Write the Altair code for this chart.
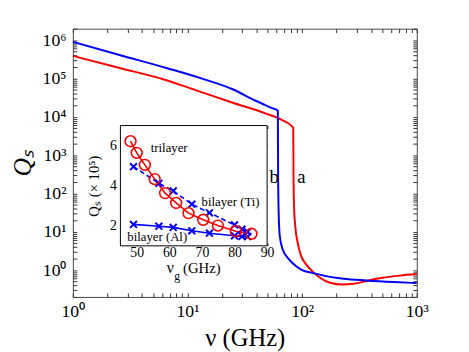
import altair as alt
import pandas as pd

SERIF = "Liberation Serif"

# ---------------- main curves: frequency (GHz) vs Q_s ----------------
freq_a = [1.0, 2.51, 6.65, 12.8, 24.8, 47.9, 66.5, 83.6, 84.1, 85.1, 87.1, 92.3, 97.7,
          107, 120, 141, 178, 224, 282, 363, 501, 708, 1000]
q_a = [389000, 191000, 89100, 45700, 23400, 12300, 8300, 5250, 316, 40, 14, 4.5, 2.4,
       1.48, 1.0, 0.65, 0.46, 0.42, 0.44, 0.52, 0.63, 0.72, 0.79]
freq_b = [1.0, 2.51, 6.65, 12.8, 24.8, 39.3, 54.6, 61.4, 61.7, 62.4, 63.8, 67.6, 75.9,
          87.1, 100, 123, 158, 229, 363, 631, 1000]
q_b = [904000, 417000, 186000, 104000, 52500, 26300, 17000, 14500, 316, 31.6, 7.9, 3.5, 2.0,
       1.32, 1.0, 0.85, 0.71, 0.60, 0.54, 0.49, 0.46]

curve_names = ["a", "b"]
curve_colors = ["#ff0000", "#0000ff"]

# curve annotations
ann_text = ["a", "b"]
ann_freq = [98.6, 57.1]
ann_q = [191, 191]

# ---------------- inset: gap frequency vs Q_s (x 1e5) ----------------
tri_x = [48.1, 50.0, 52.5, 55.5, 58.7, 62.1, 65.9, 70.4, 74.9, 80.4, 85.2]
tri_y = [6.22, 5.64, 5.04, 4.33, 3.63, 3.14, 2.63, 2.30, 2.01, 1.73, 1.60]
ti_x = [49.0, 56.8, 61.2, 66.9, 72.3, 80.0, 82.3, 84.0]
ti_y = [4.95, 4.12, 3.74, 3.08, 2.65, 2.04, 1.83, 1.70]
al_x = [49.0, 56.8, 61.2, 66.9, 72.3, 80.0, 82.3, 84.0]
al_y = [2.07, 1.98, 1.92, 1.75, 1.63, 1.50, 1.47, 1.46]

inset_labels = ["trilayer", "bilayer (Ti)", "bilayer (Al)"]
inset_label_x = [54.3, 69.9, 47.1]
inset_label_y = [5.67, 2.98, 1.26]

# inset x-axis title pieces (nu, subscript g, unit)
ititle_text = ["ν", "g", "(GHz)"]
ititle_x = [59.2, 61.5, 64.2]
ititle_y = [-0.36, -0.72, -0.36]
ititle_size = [16, 12, 15]

# tick values / labels
x_decades = [1, 10, 100, 1000]
x_labels = ["10⁰", "10¹", "10²", "10³"]
y_decades = [1, 10, 100, 1000, 10000, 100000, 1000000]
y_labels = ["10⁰", "10¹", "10²", "10³", "10⁴", "10⁵", "10⁶"]
x_ticks = [m * 10 ** k for k in range(0, 3) for m in range(1, 10)] + [1000]
y_ticks = ([m * 10 ** k for k in range(-1, 6) for m in range(1, 10) if m * 10 ** k >= 0.2]
           + [1000000, 2000000])
inset_xticks = [50, 60, 70, 80, 90]
inset_yticks = [2, 4, 6]

inset_xdomain = [45, 90]
inset_ydomain = [1, 7]


def decade_expr(vals, labs):
    parts = [f"datum.value == {v} ? '{l}'" for v, l in zip(vals, labs)]
    return " : ".join(parts) + " : ''"


main_df = pd.concat([
    pd.DataFrame({"freq": freq_a, "Q": q_a, "curve": "a", "order": range(len(freq_a))}),
    pd.DataFrame({"freq": freq_b, "Q": q_b, "curve": "b", "order": range(len(freq_b))}),
])
ann_df = pd.DataFrame({"freq": ann_freq, "Q": ann_q, "text": ann_text})

xscale = alt.Scale(type="log", domain=[1, 1000], nice=False)
yscale = alt.Scale(type="log", domain=[0.2, 2000000], nice=False)

main_xaxis = alt.Axis(
    orient="bottom", offset=-4, tickSize=4, domain=False, grid=False, values=x_ticks,
    labelExpr=decade_expr(x_decades, x_labels), labelOverlap=False, labelFlush=False,
    labelFont=SERIF, labelFontSize=18, labelColor="black", labelPadding=6,
    tickColor="#333",
    title="ν (GHz)", titleFont=SERIF, titleFontSize=25, titleFontWeight="normal",
    titleColor="black", titlePadding=5,
)
main_yaxis = alt.Axis(
    orient="left", offset=-4, tickSize=4, domain=False, grid=False, values=y_ticks,
    labelExpr=decade_expr(y_decades, y_labels), labelOverlap=False, labelFlush=False,
    labelFont=SERIF, labelFontSize=18, labelColor="black", labelPadding=7,
    tickColor="#333",
    title="Qₛ", titleFont=SERIF, titleFontSize=26, titleFontWeight="normal",
    titleFontStyle="italic", titleColor="black", titlePadding=7,
)

mx = alt.X("freq:Q", scale=xscale, axis=main_xaxis)
my = alt.Y("Q:Q", scale=yscale, axis=main_yaxis)

lines = alt.Chart(main_df).mark_line(strokeWidth=2, interpolate="monotone").encode(
    x=mx, y=my,
    color=alt.Color("curve:N", scale=alt.Scale(domain=curve_names, range=curve_colors), legend=None),
    order="order:Q",
)
ann = alt.Chart(ann_df).mark_text(font=SERIF, fontSize=19, align="center", baseline="alphabetic",
                                  color="black").encode(x=mx, y=my, text="text:N")
main_group = alt.layer(lines, ann)

# top / right inward ticks for main frame
tick_tr = alt.Chart(main_df).mark_point(opacity=0).encode(
    x=alt.X("freq:Q", scale=xscale, axis=alt.Axis(
        orient="top", offset=-4, tickSize=4, domain=False, grid=False, labels=False,
        values=x_ticks, title=None, tickColor="#333")),
    y=alt.Y("Q:Q", scale=yscale, axis=alt.Axis(
        orient="right", offset=-4, tickSize=4, domain=False, grid=False, labels=False,
        values=y_ticks, title=None, tickColor="#333")),
)

# ---------------- inset ----------------
ixscale = alt.Scale(domain=inset_xdomain, range=[48.4, 197.7], nice=False, zero=False)
iyscale = alt.Scale(domain=inset_ydomain, range=[221, 98.6], nice=False, zero=False)
ixaxis = alt.Axis(
    orient="bottom", offset=-55, tickSize=3, domain=False, grid=False, values=inset_xticks,
    labelFont=SERIF, labelFontSize=14, labelColor="black", labelPadding=0, labelFlush=False,
    tickColor="black", title=None,
)
iyaxis = alt.Axis(
    orient="left", offset=-51.4, tickSize=3, domain=False, grid=False, values=inset_yticks,
    labelFont=SERIF, labelFontSize=14, labelColor="black", labelPadding=4, labelFlush=False,
    tickColor="black",
    title="Qₛ (× 10⁵)", titleFont=SERIF, titleFontSize=15, titleFontWeight="normal",
    titleColor="black", titlePadding=8,
)


def ix(field):
    return alt.X(f"{field}:Q", scale=ixscale, axis=ixaxis)


def iy(field):
    return alt.Y(f"{field}:Q", scale=iyscale, axis=iyaxis)


box_df = pd.DataFrame({"x": [inset_xdomain[0]], "x2": [inset_xdomain[1]],
                       "y": [inset_ydomain[0]], "y2": [inset_ydomain[1]]})
tri_df = pd.DataFrame({"x": tri_x, "y": tri_y})
ti_df = pd.DataFrame({"x": ti_x, "y": ti_y})
al_df = pd.DataFrame({"x": al_x, "y": al_y})
ilab_df = pd.DataFrame({"x": inset_label_x, "y": inset_label_y, "text": inset_labels})
ititle_df = pd.DataFrame({"x": ititle_x, "y": ititle_y, "text": ititle_text, "fs": ititle_size})

XSHAPE = "M-1,-1L1,1M-1,1L1,-1"

box = alt.Chart(box_df).mark_rect(fill="white", stroke="black", strokeWidth=1).encode(
    x=ix("x"), x2="x2", y=iy("y"), y2="y2")
tri_line = alt.Chart(tri_df).mark_line(color="#ff0000", strokeWidth=1.6).encode(x=ix("x"), y=iy("y"))
tri_pts = alt.Chart(tri_df).mark_point(shape="circle", filled=False, size=121, color="#ff0000",
                                       strokeWidth=1.6, opacity=1).encode(x=ix("x"), y=iy("y"))
ti_line = alt.Chart(ti_df).mark_line(color="#0000ff", strokeWidth=1.6, strokeDash=[5, 3]).encode(
    x=ix("x"), y=iy("y"))
ti_pts = alt.Chart(ti_df).mark_point(shape=XSHAPE, filled=False, size=49, color="#0000ff",
                                     strokeWidth=2, opacity=1).encode(x=ix("x"), y=iy("y"))
al_line = alt.Chart(al_df).mark_line(color="#0000ff", strokeWidth=1.6).encode(x=ix("x"), y=iy("y"))
al_pts = alt.Chart(al_df).mark_point(shape=XSHAPE, filled=False, size=49, color="#0000ff",
                                     strokeWidth=2, opacity=1).encode(x=ix("x"), y=iy("y"))
ilabels = alt.Chart(ilab_df).mark_text(font=SERIF, fontSize=13, align="left", baseline="alphabetic",
                                       color="black").encode(x=ix("x"), y=iy("y"), text="text:N")
ititle = alt.Chart(ititle_df).mark_text(font=SERIF, align="left", baseline="alphabetic",
                                        color="black").encode(
    x=ix("x"), y=iy("y"), text="text:N", size=alt.Size("fs:Q", scale=None))

inset_group = alt.layer(box, ti_line, al_line, tri_line, ti_pts, al_pts, tri_pts, ilabels, ititle)

inset_tr = alt.Chart(box_df).mark_point(opacity=0).encode(
    x=alt.X("x:Q", scale=ixscale, axis=alt.Axis(
        orient="top", offset=-101.6, tickSize=3, domain=False, grid=False, labels=False,
        values=inset_xticks, title=None, tickColor="black")),
    y=alt.Y("y:Q", scale=iyscale, axis=alt.Axis(
        orient="right", offset=-155.3, tickSize=3, domain=False, grid=False, labels=False,
        values=inset_yticks, title=None, tickColor="black")),
)

chart = alt.layer(main_group, tick_tr, inset_group, inset_tr).resolve_scale(
    x="independent", y="independent"
).properties(
    width=350, height=273,
    autosize=alt.AutoSizeParams(type="none"),
    padding={"left": 66, "top": 18, "right": 45, "bottom": 53},
).configure_view(stroke="#444", strokeWidth=1)

chart.save("out.html", embed_options={"renderer": "svg", "actions": False})
